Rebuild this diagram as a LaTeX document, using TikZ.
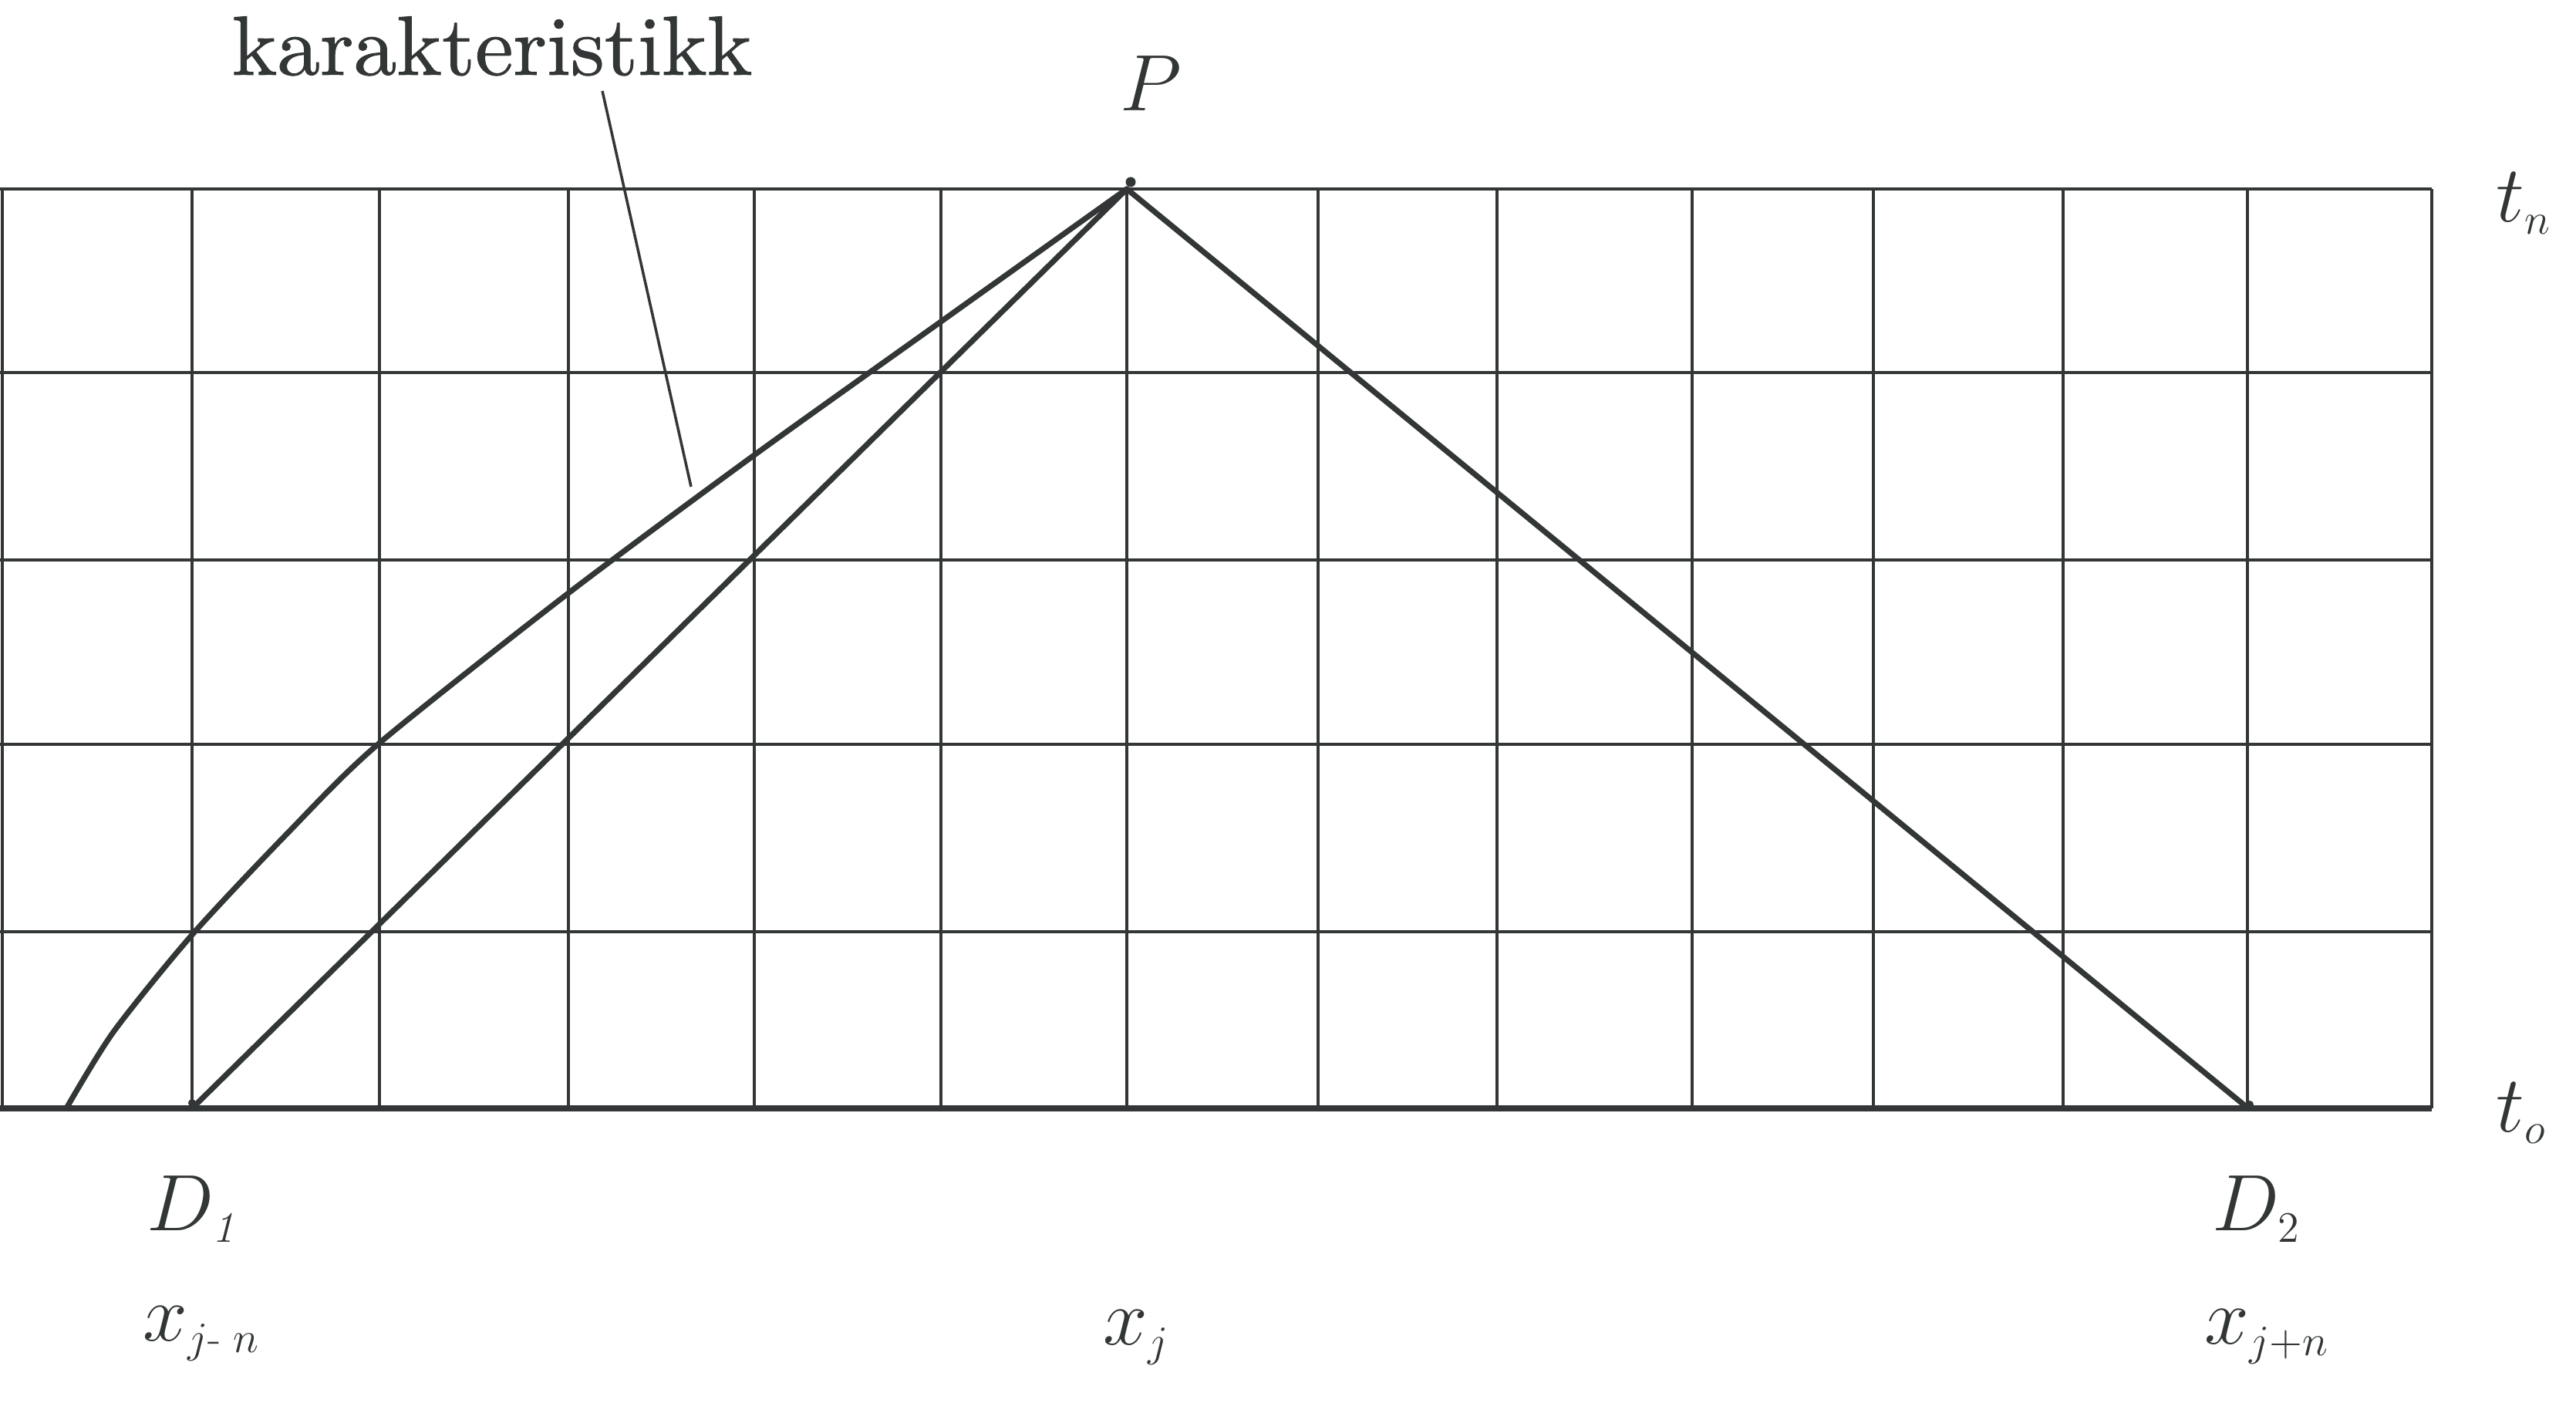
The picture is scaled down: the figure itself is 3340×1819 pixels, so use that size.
\RequirePackage{fix-cm}
\documentclass[tikz,border=0pt]{standalone}
\usepackage{amsmath}
\usepackage{fontspec}
\usepackage{tikz}
\newfontfamily\kfont[FakeBold=0.9,FakeStretch=1.02]{lmroman10-regular.otf}
\DeclareMathSizes{29.5}{29.5}{16}{12}
\definecolor{ink}{RGB}{51,54,54}
\begin{document}
\begin{tikzpicture}[x=0.01cm,y=-0.01cm,
  gridline/.style={draw=ink,line width=0.9pt},
  border/.style={draw=ink,line width=1.1pt},
  charline/.style={draw=ink,line width=2.05pt,line join=round,line cap=round},
  leader/.style={draw=ink,line width=1pt},
  lab/.style={inner sep=0pt,anchor=base west,text=ink,font=\fontsize{29.5}{35}\selectfont},
  blob/.style={fill=ink}]
\useasboundingbox (0,0) rectangle (3340,1819);

% vertical grid lines
\foreach \x in {249,492,737,978,1220,1461,1709,1941,2194,2429,2675,2914}
  \draw[gridline] (\x,245) -- (\x,1437);
% horizontal grid lines
\foreach \y in {483,726,965,1208}
  \draw[gridline] (0,\y) -- (3153,\y);
% borders
\draw[border,line width=1pt] (3,245) -- (3,1437);
\draw[border,line width=1.15pt] (3153,245) -- (3153,1437);
\draw[border,line width=1.25pt] (0,245) -- (3153,245);
\draw[border,line width=2.3pt] (0,1437) -- (3153,1437);

% key points
\coordinate (P) at (1461,245);
\coordinate (D1) at (249,1437);
\coordinate (D2) at (2915,1437);
\coordinate (C0) at (86,1437);

% lines
\draw[charline] (D1) -- (P) -- (D2);
\draw[charline] plot[smooth,tension=0.45] coordinates {(C0) (147,1338) (249,1212)
  (373,1080) (490,965) (737,769) (978,590) (1220,417) (P)};

% small end blobs
\fill[blob] (1466,236) circle (6.5);
\fill[blob] (249,1430) circle (5);
\fill[blob] (2917,1432) circle (5);

% label and leader
\node[lab,font=\kfont\fontsize{31}{36}\selectfont] (kar) at (300,97) {karakteristikk};
\coordinate (L1) at (781,118);
\coordinate (L2) at (896,631);
\draw[leader] (L1) -- (L2);

% text labels
\node[lab] (Plab) at (1452,144) {$P$};
\node[lab] (tn) at (3236,288) {$t_n$};
\node[lab] (to) at (3236,1467) {$t_o$};
\node[lab] (D1lab) at (190,1595) {$D_{\mathit{1}}$};
\node[lab] (D2lab) at (2868,1595) {$D_2$};
\node[lab] (xjmn) at (185,1738) {$x_{j\text{-}\;n}$};
\node[lab] (xj) at (1430,1743) {$x_j$};
\node[lab] (xjpn) at (2858,1742) {$x_{j+n}$};
\end{tikzpicture}
\end{document}
